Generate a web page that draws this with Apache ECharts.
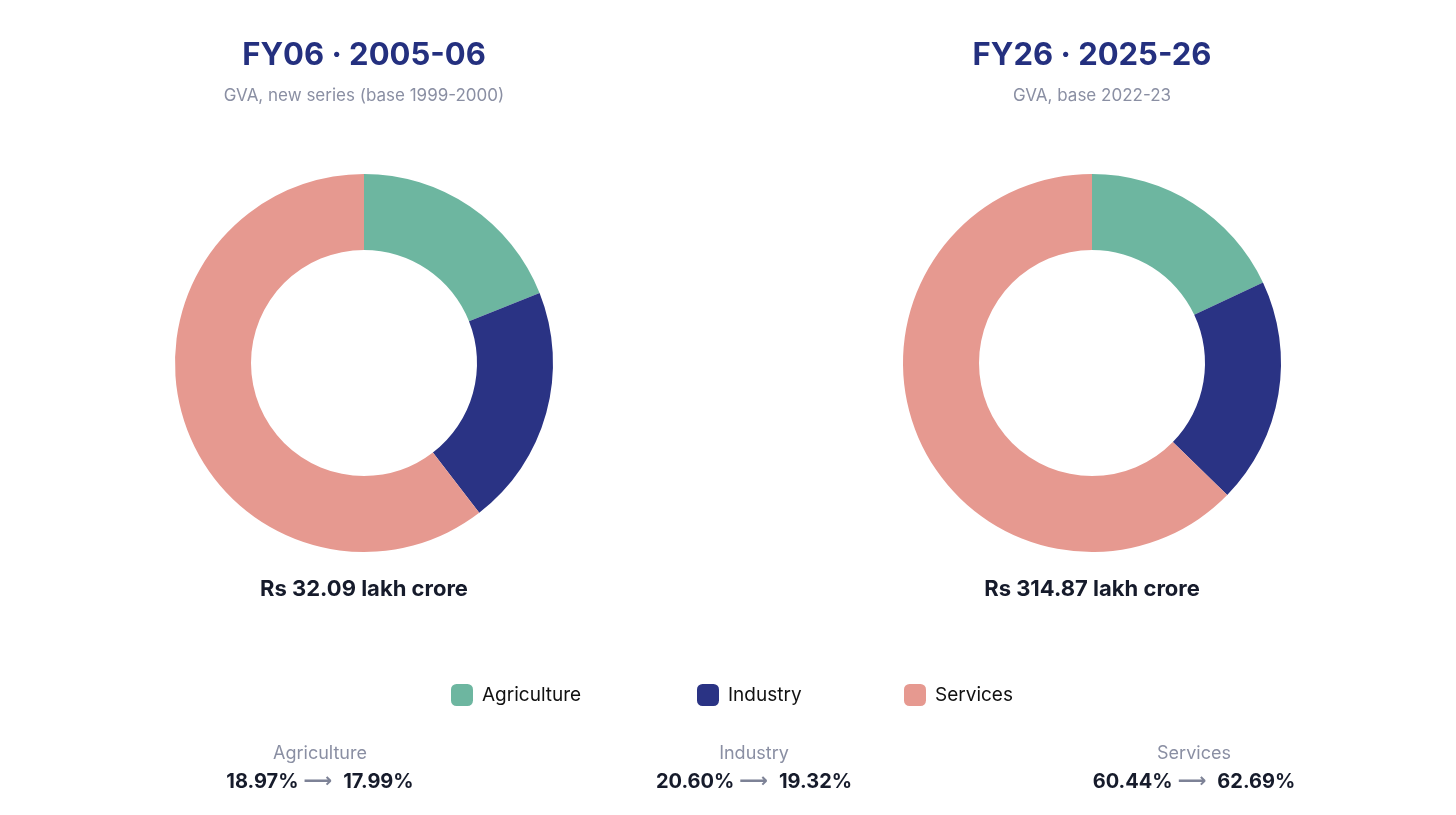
<!DOCTYPE html>
<html lang="en">
<head>
    <meta charset="utf-8">
    <title>GVA sector shares</title>
    <script src="https://cdn.jsdelivr.net/npm/echarts@6/dist/echarts.min.js"></script>
    <style>
        html, body { margin: 0; padding: 0; background: #fff; }
        #main { width: 1456px; height: 815px; }
    </style>
</head>
<body>
<div id="main"></div>
<script type="text/javascript">
    // sectors and shares (% of GVA)
    const sectors = ['Agriculture', 'Industry', 'Services'];
    const colors = ['#6db6a0', '#2a3384', '#e69990'];
    const fy06Share = [18.97, 20.60, 60.44];
    const fy26Share = [17.99, 19.32, 62.69];
    const years = ['FY06 · 2005-06', 'FY26 · 2025-26'];
    const subtitles = ['GVA, new series (base 1999-2000)', 'GVA, base 2022-23'];
    const totals = [32.09, 314.87];   // Rs lakh crore

    const FONT = 'Inter, "Noto Sans", sans-serif';
    const pieX = [364, 1092];
    const compareX = [320, 754, 1194];
    const legendX = [451, 697, 904];

    let myChart = echarts.init(document.getElementById('main'));

    function pieSeries(i, shares) {
        return {
            name: years[i],
            type: 'pie',
            center: [pieX[i], 363],
            radius: [113, 189],
            startAngle: 90,
            clockwise: true,
            label: { show: false },
            labelLine: { show: false },
            silent: true,
            itemStyle: { borderWidth: 0 },
            data: sectors.map((s, k) => ({ name: s, value: shares[k], itemStyle: { color: colors[k] } }))
        };
    }

    let graphics = [];
    for (let i = 0; i < 2; i++) {
        graphics.push({
            type: 'text', x: pieX[i], y: 56,
            style: { text: years[i], font: 'bold 31px ' + FONT, fill: '#24307f', textAlign: 'center', textVerticalAlign: 'middle' }
        });
        graphics.push({
            type: 'text', x: pieX[i], y: 96,
            style: { text: subtitles[i], font: '17px ' + FONT, fill: '#8a8fa3', textAlign: 'center', textVerticalAlign: 'middle' }
        });
        graphics.push({
            type: 'text', x: pieX[i], y: 589,
            style: { text: 'Rs ' + totals[i].toFixed(2) + ' lakh crore', font: 'bold 22px ' + FONT, fill: '#161b2b', textAlign: 'center', textVerticalAlign: 'middle' }
        });
    }
    sectors.forEach((s, k) => {
        graphics.push({
            type: 'text', x: compareX[k], y: 754,
            style: { text: s, font: '18px ' + FONT, fill: '#8a8fa3', textAlign: 'center', textVerticalAlign: 'middle' }
        });
        graphics.push({
            type: 'text', x: compareX[k], y: 782,
            style: {
                text: '{b|' + fy06Share[k].toFixed(2) + '%}{a|⟶}{b|' + fy26Share[k].toFixed(2) + '%}',
                textAlign: 'center', textVerticalAlign: 'middle',
                rich: {
                    b: { fontFamily: FONT, fontWeight: 'bold', fontSize: 20, fill: '#161b2b', color: '#161b2b' },
                    a: { fontFamily: '"DejaVu Sans", sans-serif', fontWeight: 'bold', fontSize: 20, fill: '#7d8296', color: '#7d8296', padding: [0, 11, 0, 5] }
                }
            }
        });
    });

    const option = {
        backgroundColor: '#ffffff',
        animation: false,
        legend: sectors.map((s, k) => ({
            data: [s],
            left: legendX[k],
            top: 684,
            padding: 0,
            icon: 'roundRect',
            itemWidth: 22,
            itemHeight: 22,
            itemGap: 0,
            selectedMode: false,
            textStyle: { fontFamily: FONT, fontSize: 19, color: '#111111', padding: [0, 0, 0, 4] }
        })),
        series: [pieSeries(0, fy06Share), pieSeries(1, fy26Share)],
        graphic: graphics
    };
    myChart.setOption(option);
</script>
</body>
</html>
